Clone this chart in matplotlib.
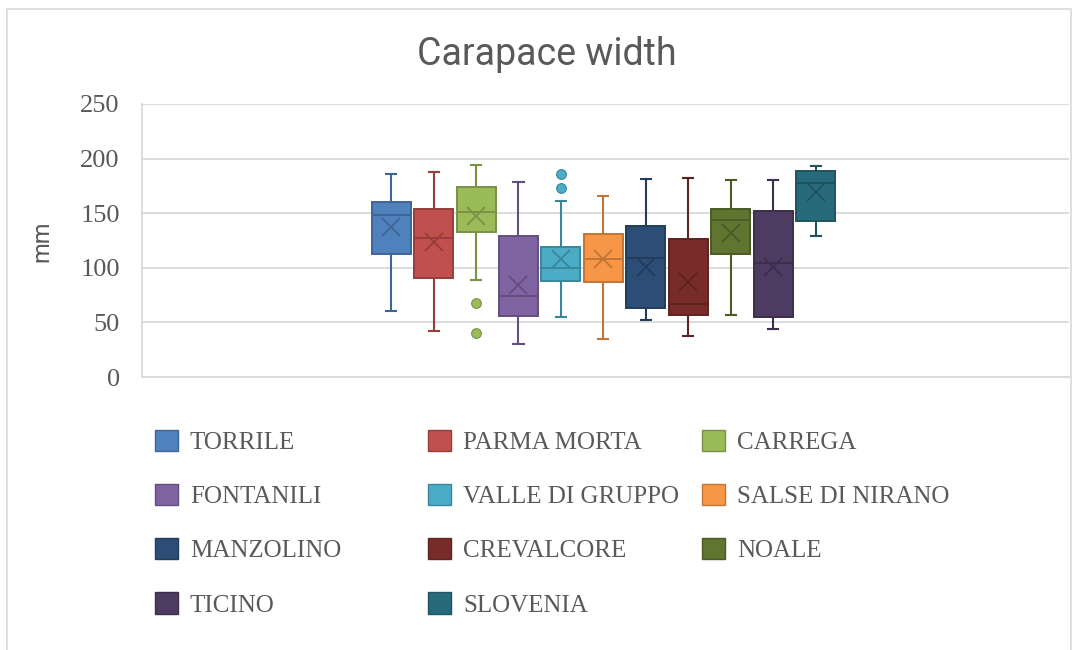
import matplotlib
matplotlib.use('Agg')
import matplotlib.pyplot as plt
import matplotlib.patches as mpatches
from matplotlib.colors import to_rgb

# data (mm)
sites = ['TORRILE', 'PARMA MORTA', 'CARREGA', 'FONTANILI', 'VALLE DI GRUPPO',
         'SALSE DI NIRANO', 'MANZOLINO', 'CREVALCORE', 'NOALE', 'TICINO', 'SLOVENIA']
whis_hi = [186, 188, 194, 179, 161, 166, 181, 182, 180, 180, 193]
q3 = [160, 154, 174, 129, 119, 131, 138, 126, 154, 152, 189]
median = [148, 127, 151, 74, 100, 108, 109, 67, 144, 104, 178]
mean = [137, 124, 147, 84, 108, 108, 101, 87, 132, 101, 169]
q1 = [113, 91, 133, 56, 88, 87, 63, 57, 113, 55, 143]
whis_lo = [60, 42, 89, 30, 55, 35, 52, 38, 57, 44, 129]
outliers = [[], [], [68, 40], [], [186, 173], [], [], [], [], [], []]

colors = ['#4F81BD', '#C0504D', '#9BBB59', '#8064A2', '#4BACC6', '#F79646',
          '#2C4D75', '#772C2A', '#5F7530', '#4D3B62', '#276A7C']


def darker(c, f=0.78):
    r, g, b = to_rgb(c)
    return (r * f, g * f, b * f)


W, H = 1076, 650
fig = plt.figure(figsize=(W / 100, H / 100), dpi=100)
ax = fig.add_axes([142 / W, 1 - 377 / H, 927 / W, 273 / H])

stats = []
for i, name in enumerate(sites):
    stats.append({'label': name, 'med': median[i], 'q1': q1[i], 'q3': q3[i],
                  'whislo': whis_lo[i], 'whishi': whis_hi[i], 'mean': mean[i],
                  'fliers': outliers[i]})

pos = list(range(1, len(sites) + 1))
res = ax.bxp(stats, positions=pos, widths=0.92, patch_artist=True, showmeans=True,
             capwidths=0.24, manage_ticks=False)

for i, c in enumerate(colors):
    dc = darker(c)
    res['boxes'][i].set(facecolor=c, edgecolor=dc, linewidth=1.4, zorder=3)
    res['medians'][i].set(color=dc, linewidth=1.4, zorder=4)
    for ln in res['whiskers'][2 * i:2 * i + 2] + res['caps'][2 * i:2 * i + 2]:
        ln.set(color=dc, linewidth=1.5, zorder=2)
    res['means'][i].set(marker='x', markersize=13, markeredgecolor=dc,
                        markeredgewidth=1.3, zorder=5)
    res['fliers'][i].set(marker='o', markersize=7, markerfacecolor=c,
                         markeredgecolor=dc, markeredgewidth=0.8, zorder=5)

ax.set_xlim(-4.87, 16.97)
ax.set_ylim(0, 250)
ax.set_yticks([0, 50, 100, 150, 200, 250])
ax.set_xticks([])
ax.yaxis.grid(True, color='#D9D9D9', linewidth=1.3)
ax.set_axisbelow(True)
for s in ['top', 'right']:
    ax.spines[s].set_visible(False)
for s in ['left', 'bottom']:
    ax.spines[s].set_color('#D9D9D9')
    ax.spines[s].set_linewidth(1.3)
ax.tick_params(axis='y', length=0, pad=16, labelsize=19, labelcolor='#595959')
for t in ax.get_yticklabels():
    t.set_fontfamily('Liberation Serif')

fig.text(547 / W, 1 - 65 / H, 'Carapace width', ha='center', va='baseline',
         fontsize=27, family='Roboto', color='#595959')
fig.text(42 / W, 1 - 241 / H, 'mm', ha='center', va='center', rotation=90,
         fontsize=17, family='Roboto', color='#595959')

# legend laid out in three columns like the original
handles = [mpatches.Patch(facecolor=c, edgecolor=darker(c), linewidth=1.0) for c in colors]
col_x = [155, 428, 702]
for k in range(3):
    idx = list(range(k, len(sites), 3))
    fig.legend([handles[j] for j in idx], [sites[j] for j in idx],
               loc='upper left', bbox_to_anchor=(col_x[k] / W, 1 - 430 / H),
               frameon=False, ncol=1, borderpad=0, borderaxespad=0,
               handlelength=0.92, handleheight=0.92, handletextpad=0.48,
               labelspacing=1.2,
               prop={'family': 'Liberation Serif', 'size': 18}, labelcolor='#595959')

# chart border
fig.patches.append(mpatches.Rectangle((7 / W, -0.05), 1064 / W, 1.05 - 9 / H,
                                      transform=fig.transFigure, fill=False,
                                      edgecolor='#D9D9D9', linewidth=1.2))

fig.savefig('out.png', dpi=100)
